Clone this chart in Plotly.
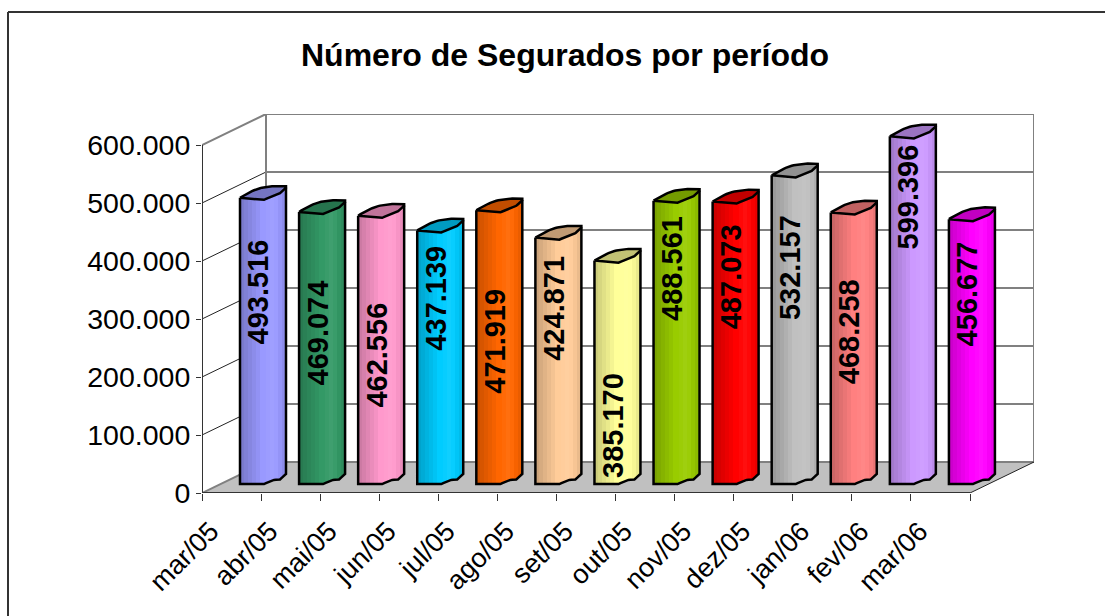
import numpy as np
import plotly.graph_objects as go

periods = ["mar/05","abr/05","mai/05","jun/05","jul/05","ago/05","set/05","out/05","nov/05","dez/05","jan/06","fev/06","mar/06"]
segurados = [493516,469074,462556,437139,471919,424871,385170,488561,487073,532157,468258,599396,456677]
bar_colors = ["#9999FF","#339966","#FF99CC","#00CCFF","#FF6600","#FFCC99","#FFFF99","#99CC00","#FF0000","#C0C0C0","#FF8080","#CC99FF","#FF00FF"]
label_centres = [346500,275900,237900,336200,262000,319000,117000,388000,372000,388000,277600,510000,343000]
y_ticks = [0,100000,200000,300000,400000,500000,600000]

# layout constants (pixel size of the plot area and its scale)
L, T, W, H = 202, 114, 832, 379
PX_X = 768 / 13            # px per category
PX_Y = 348 / 600000        # px per unit
DEPTH_X = 64 / PX_X
DEPTH_Y = 31 / PX_Y
X_MAX = W / PX_X
Y_MAX = H / PX_Y
BAR_LEFT = 38 / PX_X
BAR_W = 46 / PX_X
BAR_BASE = 9 / PX_Y

def front(t):
    return np.interp(t, [0,.5,.7,.87,1], [0,-.5,4,4.5,10]) / PX_Y
def cap_front(t):
    return np.interp(t, [0,.5,.75,.87,1], [0,-2.5,2.5,4.5,10]) / PX_Y
def back(t):
    return np.interp(t, [0,.1,.35,.55,.85,1], [0,3,8.5,11,12,11.5]) / PX_Y
def shade(hexc, f):
    c = [int(hexc[k:k+2],16) for k in (1,3,5)]
    if f <= 1:
        c = [v*f for v in c]
    else:
        c = [v+(255-v)*(f-1) for v in c]
    return "rgb(%d,%d,%d)" % tuple(c)

fig = go.Figure()

# cylinder body drawn as thin vertical bar strips, each from the value
N = 23
bands = np.array([.80,.84,.88,.92,.96,1,1,1.03,1.06,1.03,.97,.92])
for j in range(N):
    t = (j+.5)/N
    f = bands[min(int(t*len(bands)), len(bands)-1)]
    fig.add_trace(go.Bar(
        x=[i+BAR_LEFT+BAR_W*t for i in range(13)],
        y=segurados,
        base=[BAR_BASE+front(t)]*13,
        width=BAR_W/N*1.08,
        marker=dict(color=[shade(c,f) for c in bar_colors], line=dict(width=0)),
        showlegend=False, hoverinfo="skip"))

ts = np.linspace(0,1,24)
ol_x, ol_y = [], []
for i,(v,c) in enumerate(zip(segurados,bar_colors)):
    xs = i+BAR_LEFT+BAR_W*ts
    # top cap
    cap_x = list(xs)+list(xs[::-1])
    cap_y = list(BAR_BASE+v+cap_front(ts))+list(BAR_BASE+v+back(ts[::-1]))
    fig.add_trace(go.Scatter(x=cap_x, y=cap_y, mode="lines", fill="toself",
                             fillcolor=shade(c,.76), line=dict(color="black",width=2.5),
                             showlegend=False, hoverinfo="skip", cliponaxis=False))
    # sides and bottom
    ol_x += [xs[0],xs[0]]+list(xs)+[xs[-1],None]
    ol_y += [BAR_BASE+v,BAR_BASE]+list(BAR_BASE+front(ts))+[BAR_BASE+front(1)+v,None]
fig.add_trace(go.Scatter(x=ol_x,y=ol_y,mode="lines",line=dict(color="black",width=2.5),
                         showlegend=False,hoverinfo="skip",cliponaxis=False))

# walls, floor, gridlines
shapes = []
def seg(x0,y0,x1,y1,color,width):
    shapes.append(dict(type="line",xref="x",yref="y",x0=x0,y0=y0,x1=x1,y1=y1,
                       layer="below",line=dict(color=color,width=width)))
shapes.append(dict(type="path",xref="x",yref="y",layer="below",
    path=f"M 0 0 L 13 0 L {13+DEPTH_X} {DEPTH_Y} L {DEPTH_X} {DEPTH_Y} Z",
    fillcolor="#C0C0C0",line=dict(width=0)))
for v in y_ticks:
    seg(DEPTH_X,v+DEPTH_Y,13+DEPTH_X,v+DEPTH_Y,"#808080",2)
    if v in (0,600000):
        seg(0,v,DEPTH_X,v+DEPTH_Y,"#808080",2)
    else:
        seg(0,v,DEPTH_X,v+DEPTH_Y,"#222222",1)
seg(DEPTH_X,DEPTH_Y,DEPTH_X,600000+DEPTH_Y,"#808080",2)
seg(13+DEPTH_X,DEPTH_Y,13+DEPTH_X,600000+DEPTH_Y,"#808080",2)
seg(13,0,13+DEPTH_X,DEPTH_Y,"#222222",1)
seg(0,0,13,0,"#333333",2)
seg(0,0,0,600000,"#333333",2)
# page frame (left and top only)
fx = (8-L)/W
fy = 1+(T-12)/H
shapes.append(dict(type="line",xref="paper",yref="paper",x0=fx,x1=fx,y0=fy,y1=-(616-T-H)/H,line=dict(color="#333333",width=2)))
shapes.append(dict(type="line",xref="paper",yref="paper",x0=fx,x1=(1105-L)/W,y0=fy,y1=fy,line=dict(color="#333333",width=2)))

annotations = [dict(x=i+BAR_LEFT+BAR_W*.4,y=lc,xref="x",yref="y",text=f"{v:,}".replace(",","."),
                    textangle=-90,showarrow=False,
                    font=dict(family="Liberation Sans",size=29,color="black",weight="bold"))
               for i,(v,lc) in enumerate(zip(segurados,label_centres))]

fig.update_layout(
    width=1105,height=616,autosize=False,
    margin=dict(l=L,r=1105-L-W,t=T,b=616-T-H,pad=0),
    paper_bgcolor="white",plot_bgcolor="white",
    barmode="overlay",bargap=0,separators=",.",showlegend=False,
    title=dict(text="<b>Número de Segurados por período</b>",
               x=565/1105,xanchor="center",y=1-55/616,yanchor="middle",
               font=dict(family="Liberation Sans",size=32,color="black")),
    font=dict(family="Liberation Sans",color="black"),
    shapes=shapes,annotations=annotations,
    xaxis=dict(range=[0,X_MAX],showgrid=False,zeroline=False,showline=False,
               tickmode="array",tickvals=[i+.15 for i in range(13)],ticktext=periods,
               tickangle=-45,ticks="",ticklabelstandoff=16,
               tickfont=dict(size=27,family="Liberation Sans",color="black"),
               minor=dict(tickmode="array",tickvals=list(range(14)),ticks="outside",ticklen=7,tickwidth=1,tickcolor="#333333",showgrid=False)),
    yaxis=dict(range=[0,Y_MAX],showgrid=False,zeroline=False,showline=False,
               tickmode="array",tickvals=y_ticks,tickformat=",d",ticks="outside",ticklen=5,tickwidth=1,tickcolor="#333333",
               tickfont=dict(size=28.5,family="Liberation Sans",color="black")),
)
fig.write_html("out.html",config={"displayModeBar":False},post_script="document.body.style.margin='0';")
